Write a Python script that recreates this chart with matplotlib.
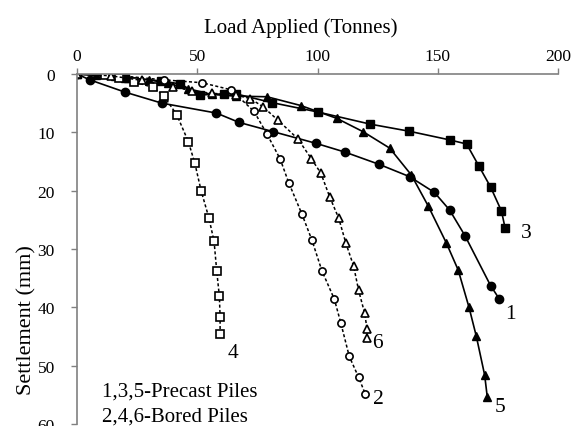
import matplotlib
matplotlib.use("Agg")
import matplotlib.pyplot as plt

plt.rcParams['font.family'] = ['Liberation Serif', 'DejaVu Serif']

# Precast piles (solid lines)
load_1 = [0, 5.3, 19.9, 35.3, 58.0, 67.4, 81.7, 99.5, 111.5, 125.7, 138.3, 148.6, 154.9, 161.3, 172.0, 175.5]
sett_1 = [0, 1.0, 3.1, 5.0, 6.7, 8.3, 9.9, 11.9, 13.4, 15.5, 17.6, 20.3, 23.3, 27.7, 36.3, 38.5]

load_3 = [0, 20, 35, 43, 51, 61, 66, 81, 100, 122, 138, 155, 162, 167, 172, 176.5, 178]
sett_3 = [0, 0.6, 1.2, 1.7, 3.6, 3.4, 3.4, 4.9, 6.5, 8.6, 9.8, 11.3, 12.0, 15.7, 19.4, 23.5, 26.4]

load_5 = [0, 8, 16, 21, 30, 38, 46, 56, 66, 79, 93, 108, 119, 130, 139, 146, 153.5, 158.5, 163, 166, 169.5, 170.6]
sett_5 = [0, 0.2, 0.4, 0.6, 1.0, 1.6, 2.5, 3.5, 3.8, 3.9, 5.4, 7.6, 9.9, 12.7, 17.3, 22.6, 28.9, 33.6, 40, 44.9, 51.6, 55.4]

# Bored piles (dashed lines)
load_2 = [0, 11, 18, 36, 52, 64, 73.6, 79, 84.5, 88, 93.5, 97.7, 101.8, 107, 109.7, 113.2, 117.1, 119.9]
sett_2 = [0, 0.0, 0.3, 1.0, 1.5, 2.7, 6.4, 10.3, 14.6, 18.6, 24, 28.5, 33.7, 38.6, 42.7, 48.4, 52, 54.9]

load_4 = [0, 11.5, 17.5, 23.5, 31.5, 36, 41.5, 46.3, 49, 51.6, 54.8, 57, 58.1, 59.2, 59.5, 59.5]
sett_4 = [0, 0.1, 0.6, 1.3, 2.3, 3.7, 7.0, 11.6, 15.3, 20.0, 24.6, 28.7, 33.8, 38.1, 41.7, 44.6]

load_6 = [0, 14, 27, 40, 48, 56, 66, 72, 77.3, 83.5, 91.8, 97.4, 101.4, 105, 108.8, 111.8, 115, 117.1, 119.6, 120.6, 120.6]
sett_6 = [0, 0.3, 1.1, 2.2, 2.9, 3.3, 3.6, 4.2, 5.6, 7.9, 11.1, 14.5, 17.0, 21.0, 24.7, 29, 32.9, 37.1, 41, 43.7, 45.3]

curve_labels = ["1", "2", "3", "4", "5", "6"]
label_x = [180.3, 125.3, 186.8, 64.8, 176.0, 124.8]
label_y = [41.1, 55.7, 27.1, 47.7, 57.0, 46.0]

x_ticks = [0, 50, 100, 150, 200]
y_ticks = [0, 10, 20, 30, 40, 50, 60]

fig = plt.figure(figsize=(5.81, 4.27), dpi=100)
ax = fig.add_axes([77/581, 2/427, (558-77)/581, (425-75)/427])

solid = dict(color='black', lw=1.2, ls='-', ms=6.0, mfc='black', mec='black')
dash = dict(color='black', lw=1.1, ls=(0, (2, 1.5)), ms=5.2, mfc='white', mec='black', mew=1.2)

ax.plot(load_1, sett_1, marker='o', **solid)
ax.plot(load_3, sett_3, marker='s', **solid)
ax.plot(load_5, sett_5, marker='^', **solid)
ax.plot(load_2, sett_2, marker='o', **dash)
ax.plot(load_4, sett_4, marker='s', **dash)
ax.plot(load_6, sett_6, marker='^', **dash)

for t, lx, ly in zip(curve_labels, label_x, label_y):
    ax.text(lx, ly, t, fontsize=15.5, ha='center', va='center')

ax.text(10.5, 54.4, "1,3,5-Precast Piles", fontsize=15, ha='left', va='center')
ax.text(10.5, 58.7, "2,4,6-Bored Piles", fontsize=15, ha='left', va='center')

ax.set_xlim(0, 200)
ax.set_ylim(60, 0)
ax.set_xticks(x_ticks)
ax.set_yticks(y_ticks)
ax.xaxis.tick_top()
ax.xaxis.set_label_position('top')
ax.set_xlabel("Load Applied (Tonnes)", fontsize=15)
ax.xaxis.set_label_coords(0.466, 1.12)
ax.set_ylabel("Settlement (mm)", fontsize=16)
ax.yaxis.set_label_coords(-0.085, 0.30)
ax.tick_params(axis='both', labelsize=12.5, color='#808080', length=4, width=1.0, direction='out')
ax.tick_params(axis='x', pad=3.5)
ax.tick_params(axis='y', pad=12)
for s in ['right', 'bottom']:
    ax.spines[s].set_visible(False)
for s in ['left', 'top']:
    ax.spines[s].set_color('#808080')
    ax.spines[s].set_linewidth(1.2)

fig.savefig("out.png", dpi=100)
